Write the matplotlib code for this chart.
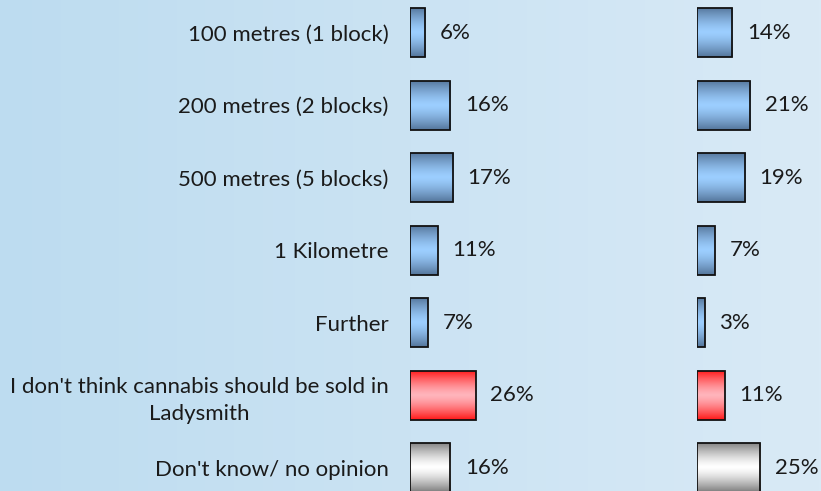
import numpy as np
import matplotlib
matplotlib.use("Agg")
import matplotlib.pyplot as plt
from matplotlib.colors import to_rgb

categories = ["100 metres (1 block)", "200 metres (2 blocks)", "500 metres (5 blocks)",
              "1 Kilometre", "Further",
              "I don't think cannabis should be sold in\nLadysmith",
              "Don't know/ no opinion"]
series_a = [6, 16, 17, 11, 7, 26, 16]
series_b = [14, 21, 19, 7, 3, 11, 25]
bar_kind = ["blue", "blue", "blue", "blue", "blue", "red", "gray"]

grad = {"blue": ("#54759A", "#9CCEFF"),
        "red": ("#FF1717", "#FFB4BB"),
        "gray": ("#7E7E7E", "#FFFFFF")}

W, H = 821, 491
fig = plt.figure(figsize=(W / 100, H / 100), dpi=100)

# background gradient
bg = fig.add_axes([0, 0, 1, 1])
bg.set_axis_off()
c1 = np.array(to_rgb("#BDDCF0"))
c2 = np.array(to_rgb("#D9EAF6"))
t = np.linspace(0, 1, 256)[None, :, None]
img = c1 + (c2 - c1) * t
bg.imshow(img, aspect="auto", extent=[0, 1, 0, 1])
bg.set_xlim(0, 1); bg.set_ylim(0, 1)

px_per_pct = 2.53
top_px, bot_px = -3.5, 504.0
fb = (H - bot_px) / H
fh = (bot_px - top_px) / H
FS = 16.0


def gradient_img(kind):
    e, m = np.array(to_rgb(grad[kind][0])), np.array(to_rgb(grad[kind][1]))
    y = np.linspace(0, 1, 100)
    d = np.abs(2 * y - 1) ** 1.4
    return (m + (e - m) * d[:, None])[:, None, :]


def panel(x0_px, width_px, values, show_labels):
    ax = fig.add_axes([x0_px / W, fb, width_px / W, fh])
    ax.patch.set_alpha(0)
    ax.set_xlim(0, width_px / px_per_pct)
    ax.set_ylim(len(values) - 0.5, -0.5)
    bars = ax.barh(range(len(values)), values, height=0.68, color="none",
                   edgecolor="#111111", linewidth=1.3, zorder=3)
    for b, k in zip(bars, bar_kind):
        x, y = b.get_x(), b.get_y()
        w, h = b.get_width(), b.get_height()
        im = ax.imshow(gradient_img(k), aspect="auto",
                       extent=[x, x + w, y + h, y], zorder=2, interpolation="bilinear")
        im.set_clip_path(b)
    ax.set_xlim(0, width_px / px_per_pct)
    ax.set_ylim(len(values) - 0.5, -0.5)
    for i, v in enumerate(values):
        ax.annotate(f"{v}%", (v, i), xytext=(10.5, 0), textcoords="offset points",
                    ha="left", va="center", fontsize=FS, family="Lato", color="#1a1a1a")
    for s in ax.spines.values():
        s.set_visible(False)
    ax.set_xticks([])
    if show_labels:
        ax.set_yticks(range(len(values)))
        ax.set_yticklabels(categories, fontsize=FS, family="Lato", color="#1a1a1a")
        ax.tick_params(axis="y", length=0, pad=15.5)
        for lab in ax.get_yticklabels():
            lab.set_multialignment("center")
            lab.set_linespacing(1.4)
    else:
        ax.set_yticks([])
    return ax


panel(410, 250, series_a, True)
panel(697, 124, series_b, False)

fig.savefig("out.png", dpi=100)
